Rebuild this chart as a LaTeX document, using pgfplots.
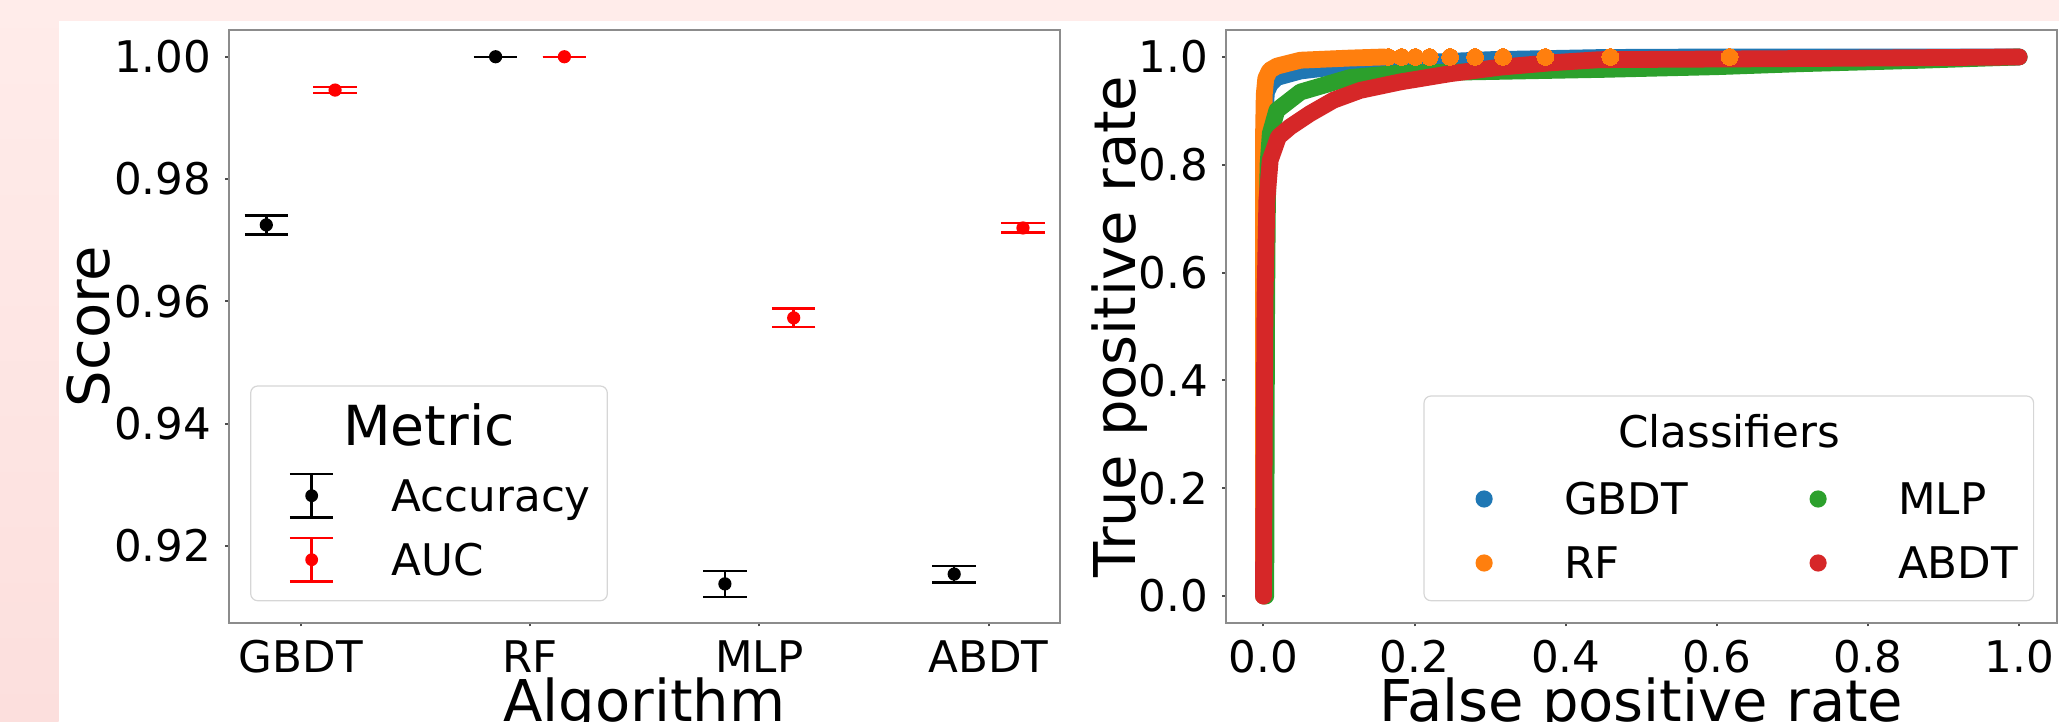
\documentclass[border=0pt]{standalone}
\usepackage{fontspec}
\setmainfont{DejaVu Sans}
\usepackage{pgfplots}
\pgfplotsset{compat=1.18}

\definecolor{tabblue}{HTML}{1F77B4}
\definecolor{taborange}{HTML}{FF7F0E}
\definecolor{tabgreen}{HTML}{2CA02C}
\definecolor{tabred}{HTML}{D62728}
\definecolor{pinktop}{HTML}{FFECEA}
\definecolor{pinkbot}{HTML}{FCDFDD}
\definecolor{framegray}{HTML}{8C8C8C}

\newcommand\ticksize{\fontsize{10.9}{13}\selectfont}
\newcommand\labsize{\fontsize{14.4}{17}\selectfont}
\newcommand\legtxt[1]{\smash{\raisebox{-0.3645em}{#1}}}

\pgfplotsset{
  panel/.style={
    scale only axis, width=207.8pt, height=148.25pt,
    axis line style={framegray, line width=0.5pt},
    tick style={black!70, line width=0.5pt},
    major tick length=0.85pt, tick align=outside, tick pos=left,
    tick label style={font=\ticksize},
    /pgf/number format/assume math mode=true,
    label style={font=\labsize},
    legend style={draw=none, fill=none, inner sep=0pt, outer sep=0pt,
      column sep=0pt, row sep=0pt, nodes={inner sep=0pt, text depth=},
      font=\ticksize, anchor=north west},
    legend cell align=left,
  },
  errleg/.style={legend image code/.code={
    \draw[#1, line width=0.6pt] (0pt,-5.46pt) -- (0pt,5.46pt)
      (-5.43pt,-5.46pt) -- (5.43pt,-5.46pt) (-5.43pt,5.46pt) -- (5.43pt,5.46pt);
    \fill[#1, draw=none] (0pt,0pt) circle (1.6pt);
    \path[draw=none, fill=none] (-6pt,-8pt) rectangle (20pt,8pt);}},
  dotleg/.style={legend image code/.code={
    \fill[#1, draw=none] (0pt,0pt) circle (2.15pt);
    \path[draw=none, fill=none] (-6pt,-8pt) rectangle (20pt,8pt);}},
  roc/.style={line width=4.2pt, line cap=round, line join=round, mark=none},
  errplot/.style={only marks, mark=*, mark size=1.45pt, #1, errleg=#1,
    error bars/.cd, y dir=both, y explicit, error mark=|,
    error bar style={line width=0.6pt, #1},
    error mark options={line width=0.6pt, mark size=5.43pt, #1}},
}

\begin{document}
\begin{tikzpicture}
\useasboundingbox (0,0) rectangle (514.75pt,180.25pt);
\clip (0,0) rectangle (514.75pt,180.25pt);

% pink frame of the screenshot
\begin{scope}[x=0.25pt,y=0.25pt]
  \fill[pinktop] (0,700) rectangle (2059,721);
  \shade[top color=pinktop, bottom color=pinkbot] (0,0) rectangle (58.7,721);
\end{scope}

% left: scores with error bars
\begin{axis}[panel, at={(57.175pt,24.5pt)}, anchor=south west,
  xmin=-0.314, xmax=3.311, ymin=0.9074, ymax=1.00437,
  xtick={0,1,2,3}, xticklabels={GBDT,RF,MLP,ABDT},
  ytick={0.92,0.94,0.96,0.98,1.00},
  yticklabel style={/pgf/number format/fixed, /pgf/number format/fixed zerofill,
    /pgf/number format/precision=2},
  xlabel={Algorithm}, ylabel={Score},
  xlabel style={at={(axis description cs:0.5,-0.1669)}, anchor=base},
  ylabel style={at={(axis description cs:-0.144,0.5)}, anchor=base},
  legend style={at={(axis description cs:0.07097,0.2686)}},
]
\addplot[errplot=black] table[x=x, y=y, y error=e] {
x y e
-0.15 0.9725 0.00155
0.85 1.0000 0
1.85 0.9138 0.0021
2.85 0.9154 0.00136
};
\addlegendentry{\legtxt{Accuracy}}
\addplot[errplot=red] table[x=x, y=y, y error=e] {
x y e
0.15 0.99455 0.00046
1.15 1.0000 0
2.15 0.9573 0.0015
3.15 0.9720 0.00077
};
\addlegendentry{\legtxt{AUC}}
\end{axis}

% right: ROC curves
\begin{axis}[panel, at={(306.425pt,24.5pt)}, anchor=south west,
  xmin=-0.05, xmax=1.05, ymin=-0.05, ymax=1.05,
  xtick={0,0.2,0.4,0.6,0.8,1}, ytick={0,0.2,0.4,0.6,0.8,1},
  xticklabel style={/pgf/number format/fixed, /pgf/number format/fixed zerofill,
    /pgf/number format/precision=1},
  yticklabel style={/pgf/number format/fixed, /pgf/number format/fixed zerofill,
    /pgf/number format/precision=1},
  xlabel={False positive rate}, ylabel={True positive rate},
  xlabel style={at={(axis description cs:0.5,-0.1669)}, anchor=base},
  ylabel style={at={(axis description cs:-0.1091,0.5)}, anchor=base},
  legend columns=2, transpose legend,
  legend style={at={(axis description cs:0.2820,0.2631)}},
]
\addplot[tabblue, roc, dotleg=tabblue] coordinates {
(0,0) (0,0.3) (0,0.6) (0.001,0.8) (0.002,0.9) (0.004,0.935) (0.009,0.950)
(0.0177,0.962) (0.049,0.974) (0.115,0.985) (0.181,0.988) (0.3,0.995)
(0.45,0.999) (0.6,1.0) (1.0,1.0)};
\addlegendentry{\legtxt{\makebox[57.5pt][l]{GBDT}}}
\addplot[taborange, roc, dotleg=taborange] coordinates {
(0,0) (0,0.6) (0,0.85) (0.001,0.93) (0.003,0.96) (0.008,0.975)
(0.0177,0.983) (0.049,0.994) (0.115,0.998) (0.16,1.0)};
\addlegendentry{\legtxt{\makebox[57.5pt][l]{RF}}}
\addplot[only marks, mark=*, mark size=2.1pt, forget plot,
  mark options={draw=taborange, fill=taborange, line width=0pt}] coordinates {
(0.165,1.0) (0.183,1.0) (0.201,1.0) (0.220,1.0) (0.247,1.0) (0.280,1.0)
(0.317,1.0) (0.373,1.0) (0.459,1.0) (0.617,1.0)};
\addplot[tabgreen, roc, dotleg=tabgreen] coordinates {
(0.003,0) (0.004,0.5) (0.005,0.7) (0.006,0.8) (0.009,0.858) (0.0177,0.901)
(0.049,0.935) (0.115,0.962) (0.181,0.970) (0.3,0.973) (0.45,0.977)
(0.6,0.982) (0.71,0.9875) (0.85,0.993) (1.0,1.0)};
\addlegendentry{\legtxt{MLP}}
\addplot[tabred, roc, dotleg=tabred] coordinates {
(0,0) (0.001,0.3) (0.002,0.55) (0.0045,0.7346) (0.0089,0.8087) (0.0198,0.8519)
(0.0353,0.8704) (0.0618,0.8951) (0.0926,0.9198) (0.128,0.938) (0.181,0.9537)
(0.247,0.969) (0.313,0.981) (0.379,0.989) (0.445,0.995) (0.71,0.997) (1.0,1.0)};
\addlegendentry{\legtxt{ABDT}}
\end{axis}

% legend frames and titles
\begin{scope}[x=0.25pt,y=0.25pt]
  \draw[black!16, line width=0.3pt, rounded corners=1.75pt]
    (250.7,120.3) rectangle (607.3,335);
  \node[anchor=base, font=\fontsize{13.8}{16}\selectfont] at (429,276) {Metric};
  \draw[black!16, line width=0.3pt, rounded corners=1.75pt]
    (1424,120.3) rectangle (2033.6,325);
  \node[anchor=base, font=\ticksize] at (1729,274) {Classifiers};
\end{scope}
\end{tikzpicture}
\end{document}
